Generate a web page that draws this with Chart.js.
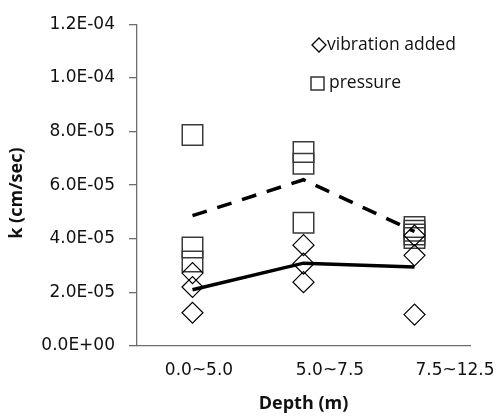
<!DOCTYPE html>
<html>
<head>
<meta charset="utf-8">
<script src="https://cdn.jsdelivr.net/npm/chart.js@4/dist/chart.umd.min.js"></script>
<style>
  html, body { margin: 0; padding: 0; background: #fff; }
  #wrap { width: 504px; height: 419px; position: relative; }
</style>
</head>
<body>
<div id="wrap"><canvas id="c" width="504" height="419"></canvas></div>
<script>
// ---- data ----
const categories = ['0.0~5.0', '5.0~7.5', '7.5~12.5'];
const vibrationAdded = [
  [2.72e-5, 2.20e-5, 1.24e-5],
  [3.76e-5, 3.07e-5, 2.38e-5],
  [4.12e-5, 3.38e-5, 1.17e-5]
];
const pressure = [
  [7.87e-5, 3.67e-5, 3.15e-5],
  [7.23e-5, 6.80e-5, 4.60e-5],
  [4.44e-5, 4.30e-5, 4.16e-5, 4.03e-5]
];
const vibrationLine = [2.10e-5, 3.09e-5, 2.95e-5];
const pressureLine = [4.86e-5, 6.20e-5, 4.27e-5];
const yTickMin = 0, yTickMax = 1.2e-4, yTickStep = 2e-5;
const legendLabels = ['vibration added', 'pressure'];
const xTitle = 'Depth (m)';
const yTitle = 'k (cm/sec)';

// ---- helpers ----
function toPoints(groups) {
  const out = [];
  groups.forEach((vals, i) => vals.forEach(v => out.push({ x: categories[i], y: v })));
  return out;
}
function sci(v) {
  if (Math.abs(v) < 1e-12) return '0.0E+00';
  const s = v.toExponential(1).toUpperCase();
  const m = s.match(/^(-?[\d.]+)E([+-])(\d+)$/);
  return m[1] + 'E' + m[2] + m[3].padStart(2, '0');
}

const labelShift = [6.5, 26.5, 40.5];

const catLabelPlugin = {
  id: 'catLabels',
  afterDraw(chart) {
    const xs = chart.scales.x, ctx = chart.ctx;
    ctx.save();
    ctx.font = '17px "DejaVu Sans"';
    ctx.fillStyle = '#111';
    ctx.textAlign = 'center';
    ctx.textBaseline = 'alphabetic';
    categories.forEach((c, i) => {
      ctx.fillText(c, xs.getPixelForValue(i) + labelShift[i], xs.top + 29);
    });
    ctx.restore();
  }
};

// y title drawn centred slightly below the chart-area middle, as in the reference
const yTitlePlugin = {
  id: 'yTitle',
  afterDraw(chart) {
    const ys = chart.scales.y, ctx = chart.ctx;
    ctx.save();
    ctx.font = 'bold 18px "Open Sans"';
    ctx.fillStyle = '#111';
    ctx.textAlign = 'center';
    ctx.textBaseline = 'middle';
    ctx.translate(ys.left + 16.8, (ys.top + ys.bottom) / 2 + 8);
    ctx.rotate(-Math.PI / 2);
    ctx.fillText(yTitle, 0, 0);
    ctx.restore();
  }
};

const legendPlugin = {
  id: 'customLegend',
  afterDraw(chart) {
    const ctx = chart.ctx;
    ctx.save();
    ctx.strokeStyle = '#000';
    ctx.lineWidth = 1.3;
    const dx = 319, dy = 45, r = 7;
    ctx.beginPath();
    ctx.moveTo(dx - r, dy); ctx.lineTo(dx, dy - r); ctx.lineTo(dx + r, dy); ctx.lineTo(dx, dy + r); ctx.closePath();
    ctx.stroke();
    ctx.strokeStyle = '#333';
    ctx.lineWidth = 1.5;
    ctx.strokeRect(311, 77, 13, 13);
    ctx.font = '17.5px "Open Sans"';
    ctx.fillStyle = '#111';
    ctx.textAlign = 'left';
    ctx.textBaseline = 'middle';
    ctx.fillText(legendLabels[0], 327, 45);
    ctx.fillText(legendLabels[1], 329, 83);
    ctx.restore();
  }
};

new Chart(document.getElementById('c'), {
  type: 'line',
  data: {
    labels: categories,
    datasets: [
      {
        label: legendLabels[0],
        data: toPoints(vibrationAdded),
        showLine: false,
        pointStyle: 'rectRot',
        pointRadius: 10.5,
        pointBorderWidth: 1.2,
        pointBorderColor: '#000',
        pointBackgroundColor: 'rgba(0,0,0,0)',
        order: 3
      },
      {
        label: legendLabels[1],
        data: toPoints(pressure),
        showLine: false,
        pointStyle: 'rect',
        pointRadius: 14.5,
        pointBorderWidth: 1.5,
        pointBorderColor: '#3a3a3a',
        pointBackgroundColor: 'rgba(0,0,0,0)',
        order: 4
      },
      {
        label: 'vibration mean',
        data: vibrationLine,
        borderColor: '#000',
        borderWidth: 3.5,
        pointRadius: 0,
        fill: false,
        tension: 0,
        order: 1
      },
      {
        label: 'pressure mean',
        data: pressureLine,
        borderColor: '#000',
        borderWidth: 3.5,
        borderDash: [15, 11],
        borderCapStyle: 'butt',
        pointRadius: 0,
        fill: false,
        tension: 0,
        order: 2
      }
    ]
  },
  options: {
    responsive: false,
    animation: false,
    devicePixelRatio: 1,
    events: [],
    layout: { padding: { top: 20, right: 34, left: 0, bottom: 0 } },
    plugins: {
      legend: { display: false },
      tooltip: { enabled: false }
    },
    scales: {
      x: {
        type: 'category',
        offset: true,
        grid: { display: false },
        border: { display: true, color: '#6e6e6e', width: 1.3 },
        ticks: { display: false },
        title: {
          display: true,
          text: xTitle,
          color: '#111',
          font: { family: 'Open Sans', size: 18, weight: 'bold' },
          padding: { top: 0, bottom: 4 }
        },
        afterFit(scale) { scale.height = 73; }
      },
      y: {
        min: yTickMin,
        max: yTickMax,
        grid: {
          display: true,
          drawOnChartArea: false,
          drawTicks: true,
          tickLength: 8,
          color: '#6e6e6e',
          lineWidth: 1.3
        },
        border: { display: true, color: '#6e6e6e', width: 1.3 },
        ticks: {
          stepSize: yTickStep,
          padding: 14,
          color: '#111',
          font: { family: 'DejaVu Sans', size: 17 },
          callback: (v) => sci(v)
        },
        title: { display: false },
        afterFit(scale) { scale.width = 137; }
      }
    }
  },
  plugins: [catLabelPlugin, yTitlePlugin, legendPlugin]
});
</script>
</body>
</html>
